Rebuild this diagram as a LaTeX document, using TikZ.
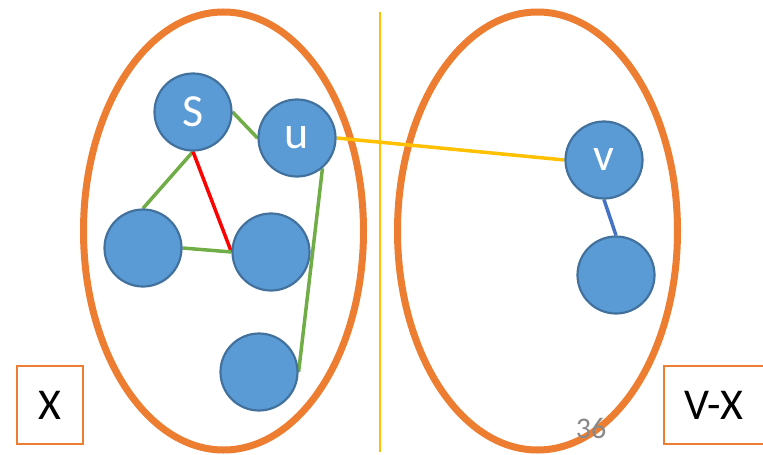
\documentclass[tikz,border=0pt]{standalone}
\usepackage{fontspec}
\setmainfont{Carlito}
\definecolor{orng}{HTML}{ED7D31}
\definecolor{nfill}{HTML}{5B9BD5}
\definecolor{ndraw}{HTML}{41719C}
\definecolor{grn}{HTML}{70AD47}
\definecolor{ylw}{HTML}{FFC000}
\definecolor{blu}{HTML}{4472C4}
\definecolor{gry}{HTML}{898989}
\pgfdeclarelayer{bglayer}
\pgfdeclarelayer{edgelayer}
\pgfsetlayers{bglayer,edgelayer,main}
\tikzset{
  vert/.style={circle, fill=nfill, draw=ndraw, line width=2.2pt, minimum size=77pt, inner sep=0pt, text=white, font=\fontsize{46}{46}\selectfont},
  setell/.style={draw=orng, line width=7pt},
  lbl/.style={draw=orng, line width=1.5pt, inner sep=0pt, font=\fontsize{44}{44}\selectfont},
  edge/.style={line width=3.5pt},
}
\begin{document}
\begin{tikzpicture}[x=1pt,y=-1pt]
\useasboundingbox (0,0) rectangle (763,455);
\begin{pgfonlayer}{bglayer}
% separator
\coordinate (sepT) at (380,12);
\coordinate (sepB) at (380,452);
\draw[ylw, line width=1.2pt] (sepT) -- (sepB);
% sets
\draw[setell] (223.5,231) ellipse [x radius=140, y radius=219];
\draw[setell] (537.5,231) ellipse [x radius=140, y radius=219];
\end{pgfonlayer}
% vertices
\node[vert] (s) at (193,112) {S};
\node[vert] (u) at (297,138) {u};
\node[vert] (a) at (143,248) {};
\node[vert] (b) at (271,252) {};
\node[vert] (c) at (259,372) {};
\node[vert] (v) at (604,160) {v};
\node[vert] (w) at (616,275) {};
% edges
\begin{pgfonlayer}{edgelayer}
\draw[edge, grn] (s.east) -- (u.west);
\draw[edge, grn] (s.south) -- (a.north);
\draw[edge, red] (s.south) -- (b.west);
\draw[edge, grn] (a.east) -- (b.west);
\draw[edge, grn] (u.-50) -- (c.east);
\draw[edge, ylw] (u.east) -- (v.west);
\draw[edge, blu] (v.south) -- (w.north);
\end{pgfonlayer}
% labels
\node[lbl, minimum width=66pt, minimum height=78pt] (X) at (50,405) {X};
\node[lbl, minimum width=100pt, minimum height=78pt] (VX) at (714,405) {V-X};
\node[text=gry, font=\fontsize{30}{30}\selectfont] (num) at (591,428) {36};
\end{tikzpicture}
\end{document}
